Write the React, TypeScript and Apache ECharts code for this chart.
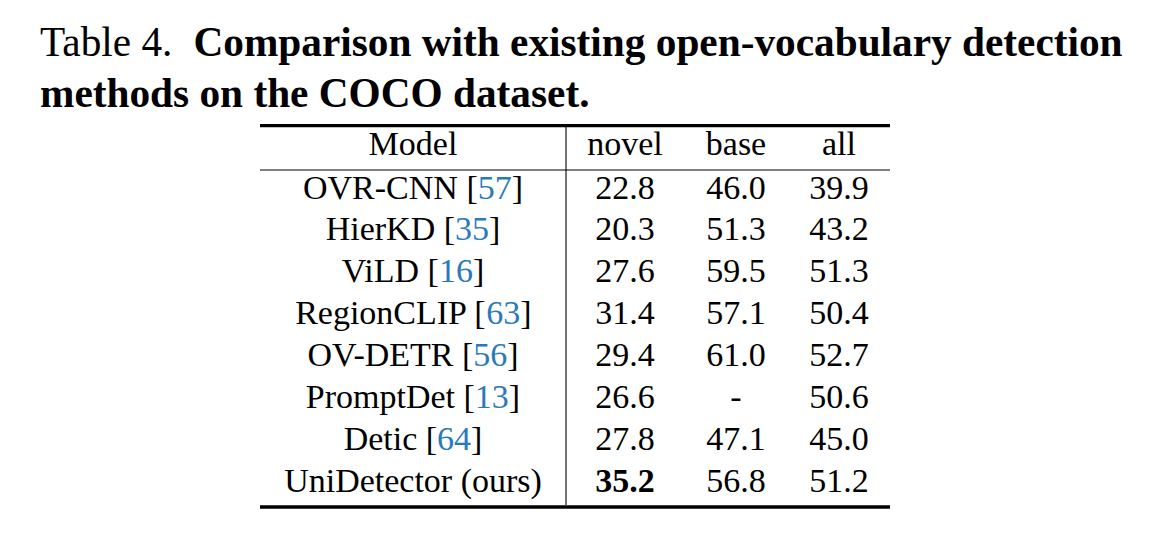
import React, { useEffect, useRef } from "react";
import * as echarts from "echarts";

const captionLabel = "Table 4.";
const captionBold1 = "Comparison with existing open-vocabulary detection";
const captionBold2 = "methods on the COCO dataset.";

const headers = ["Model", "novel", "base", "all"];
const models = ["OVR-CNN", "HierKD", "ViLD", "RegionCLIP", "OV-DETR", "PromptDet", "Detic", "UniDetector (ours)"];
const cites = ["57", "35", "16", "63", "56", "13", "64", ""];
const novel: (number | null)[] = [22.8, 20.3, 27.6, 31.4, 29.4, 26.6, 27.8, 35.2];
const base: (number | null)[] = [46.0, 51.3, 59.5, 57.1, 61.0, null, 47.1, 56.8];
const all: (number | null)[] = [39.9, 43.2, 51.3, 50.4, 52.7, 50.6, 45.0, 51.2];
// [rowIndex, columnIndex(1..3)] cells set in bold
const boldCells: [number, number][] = [[7, 1]];

export default function App() {
  const ref = useRef<HTMLDivElement>(null);
  useEffect(() => {
    if (!ref.current) return;
    const chart = echarts.init(ref.current, null, { renderer: "svg" });
    const FONT = "'Liberation Serif', 'Times New Roman', serif";
    const TFS = 34;
    const CAP = 41.3;
    const blue = "#2a7ab8";
    const left = 260, right = 890, vline = 566;
    const colX = [413, 625, 736, 839];
    const headerTop = 126.5;
    const rowTop0 = 170;
    const rowStep = 41.9;
    const topRule = 125.7, midRule = 170, botRule = 507;

    const els: any[] = [];
    els.push({
      type: "text", x: 40, y: 21.7,
      style: {
        text: `{r|${captionLabel}}{s| }{b|${captionBold1}}`,
        rich: {
          r: { fontFamily: FONT, fontSize: CAP, fill: "#000" },
          s: { fontFamily: FONT, fontSize: CAP, fill: "#000", width: 21 },
          b: { fontFamily: FONT, fontSize: CAP, fontWeight: "bold", fill: "#000" },
        },
        verticalAlign: "top",
      },
    });
    els.push({
      type: "text", x: 40, y: 72,
      style: { text: captionBold2, fontFamily: FONT, fontSize: CAP, fontWeight: "bold", fill: "#000", verticalAlign: "top" },
    });
    // rules
    els.push({ type: "line", shape: { x1: left, y1: topRule, x2: right, y2: topRule }, style: { stroke: "#000", lineWidth: 3.2 } });
    els.push({ type: "line", shape: { x1: left, y1: midRule, x2: right, y2: midRule }, style: { stroke: "#000", lineWidth: 1.1 } });
    els.push({ type: "line", shape: { x1: left, y1: botRule, x2: right, y2: botRule }, style: { stroke: "#000", lineWidth: 3.5 } });
    els.push({ type: "line", shape: { x1: vline, y1: topRule + 1, x2: vline, y2: botRule - 2 }, style: { stroke: "#000", lineWidth: 1.1 } });

    headers.forEach((h, i) => {
      els.push({
        type: "text", x: colX[i], y: headerTop,
        style: { text: h, fontFamily: FONT, fontSize: TFS, fill: "#000", align: "center", verticalAlign: "top" },
      });
    });

    const cols = [novel, base, all];
    models.forEach((m, r) => {
      const y = rowTop0 + r * rowStep;
      const txt = cites[r] ? `{n|${m} [}{c|${cites[r]}}{n|]}` : `{n|${m}}`;
      els.push({
        type: "text", x: colX[0], y,
        style: {
          text: txt, align: "center", verticalAlign: "top",
          rich: {
            n: { fontFamily: FONT, fontSize: TFS, fill: "#000" },
            c: { fontFamily: FONT, fontSize: TFS, fill: blue },
          },
        },
      });
      cols.forEach((arr, ci) => {
        const v = arr[r];
        const bold = boldCells.some(([rr, cc]) => rr === r && cc === ci + 1);
        els.push({
          type: "text", x: colX[ci + 1], y,
          style: {
            text: v === null ? "-" : v.toFixed(1), fontFamily: FONT, fontSize: TFS,
            fontWeight: bold ? "bold" : "normal", fill: "#000", align: "center", verticalAlign: "top",
          },
        });
      });
    });

    chart.setOption({ animation: false, backgroundColor: "#fff", graphic: { elements: els } });
    return () => chart.dispose();
  }, []);
  return <div ref={ref} style={{ position: "fixed", left: 0, top: 0, width: 1174, height: 560 }} />;
}
